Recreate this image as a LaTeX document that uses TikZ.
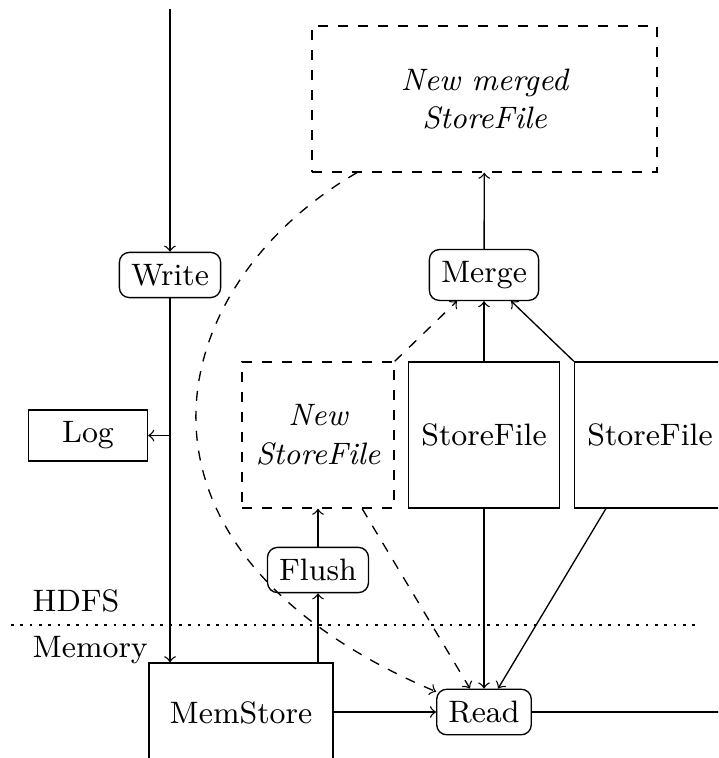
\documentclass[tikz,border=0pt]{standalone}
\newcommand\myfs{\fontsize{9.3pt}{11.6pt}\selectfont}
\begin{document}
\begin{tikzpicture}[x=0.3pt,y=-0.3pt,
  every node/.style={font=\myfs},
  op/.style={draw,rounded corners=3pt,inner sep=3.5pt},
  file/.style={draw,minimum width=45.3pt,minimum height=43.8pt,inner sep=0pt},
  newfile/.style={draw,dashed,align=center,font=\myfs\itshape,inner sep=0pt},
  lbl/.style={inner sep=0pt,anchor=base west}]
\useasboundingbox (0,0) rectangle (718,758);
\clip (0,0) rectangle (718,758);
% nodes
\node[op] (write) at (170,275) {Write};
\node[op] (merge) at (484,275) {Merge};
\node[op] (flush) at (318,570) {Flush};
\node[op] (read) at (484,712) {Read};
\node[newfile,minimum width=103.5pt,minimum height=43.8pt] (merged) at (484.5,99) {New merged\\StoreFile};
\node[newfile,minimum width=45.6pt,minimum height=43.8pt] (newsf) at (318,435) {New\\StoreFile};
\node[file] (sf1) at (484,435) {StoreFile};
\node[file] (sf2) at (650,435) {StoreFile};
\node[draw,minimum width=35.7pt,minimum height=15.3pt,inner sep=0pt] (log) at (88,435.5) {Log};
\node[draw,minimum width=55.2pt,minimum height=30pt,inner sep=0pt] (mem) at (241,713) {MemStore};
\node[lbl] (hdfs) at (32,611) {HDFS};
\node[lbl] (memory) at (32,657) {Memory};
\coordinate (top) at (170,9);
\coordinate (out) at (730,712);
\coordinate (dl) at (11,625);
\coordinate (dr) at (701,625);
% connectors
\draw[dotted,line width=0.8pt] (dl) -- (dr);
\draw[->] (top) -- (write);
\draw[->] (write) -- (write |- mem.north);
\draw[->] (write |- log) -- (log);
\draw[->] (flush |- mem.north) -- (flush);
\draw[->] (flush) -- (newsf);
\draw[->] (mem.east |- read) -- (read);
\draw (read) -- (out);
\draw[->] (sf1) -- (merge);
\draw[->] (merge) -- (merged);
\draw[->] (sf2.north west) -- (merge);
\draw[->,dashed] (newsf.north east) -- (merge);
\draw[->] (sf1) -- (read);
\draw[->] (sf2) -- (read);
\draw[->,dashed] (newsf) -- (read);
\draw[->,dashed] (merged) to[out=-150,in=157,out looseness=1.1,in looseness=1.8] (read);
\end{tikzpicture}
\end{document}
